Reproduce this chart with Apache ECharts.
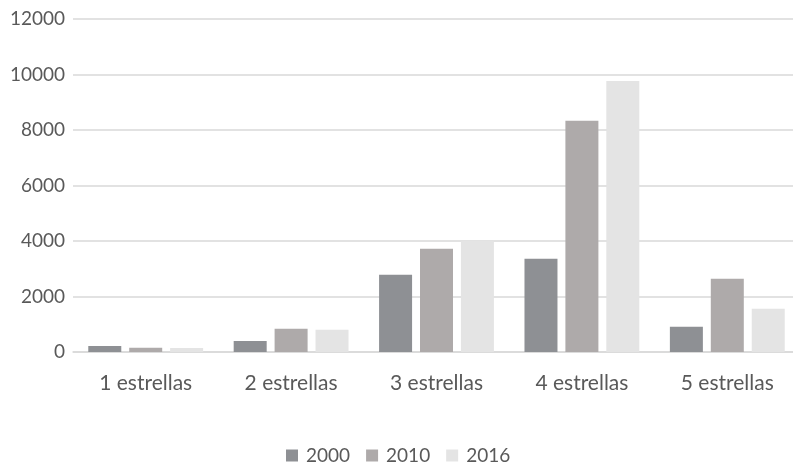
<!DOCTYPE html>
<html><head><meta charset="utf-8">
<script src="https://cdn.jsdelivr.net/npm/echarts@6/dist/echarts.min.js"></script>
<style>html,body{margin:0;padding:0;background:#fff;overflow:hidden}#c{width:800px;height:466px}</style>
</head><body><div id="c"></div>
<script>
const categories = ['1 estrellas','2 estrellas','3 estrellas','4 estrellas','5 estrellas'];
const seriesNames = ['2000','2010','2016'];
const values2000 = [220, 400, 2780, 3360, 910];
const values2010 = [155, 840, 3720, 8330, 2640];
const values2016 = [145, 800, 4010, 9770, 1560];
const colors = ['#8e9094','#aeaaaa','#e4e4e4'];
const FONT = 'Lato';
const chart = echarts.init(document.getElementById('c'));
const data = [values2000, values2010, values2016];
chart.setOption({
  animation:false,
  textStyle:{fontFamily:FONT},
  grid:{left:73, top:19, right:0, bottom:114},
  legend:{top:446, left:286, padding:0, itemWidth:12, itemHeight:12, itemGap:16, icon:'rect',
    textStyle:{fontFamily:FONT, fontSize:19, color:'#595959', padding:[0,0,0,3]}, data:seriesNames},
  xAxis:{type:'category', data:categories,
    axisLine:{lineStyle:{color:'#d9d9d9', width:1.5}}, axisTick:{show:false},
    axisLabel:{fontFamily:FONT, fontSize:21, color:'#595959', margin:21}},
  yAxis:{type:'value', min:0, max:12000, interval:2000,
    axisLine:{show:false}, axisTick:{show:false},
    splitLine:{lineStyle:{color:'#d9d9d9', width:1.5}},
    axisLabel:{fontFamily:FONT, fontSize:19, color:'#595959', margin:8, formatter:v=>String(v)}},
  series: seriesNames.map((n,i)=>({name:n, type:'bar', data:data[i], barWidth:33, barGap:'24%',
    itemStyle:{color:colors[i]}}))
});
</script></body></html>
